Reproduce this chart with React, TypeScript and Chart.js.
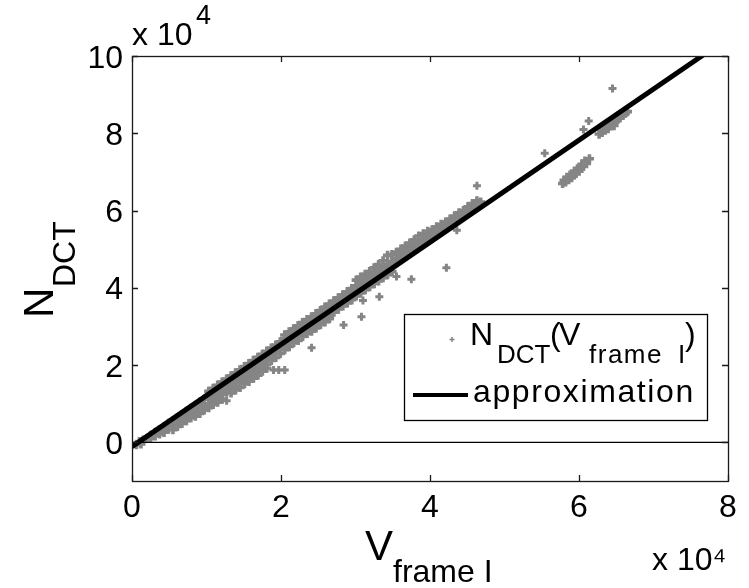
import React, { useEffect, useRef } from 'react';
import { Chart, registerables } from 'chart.js';

Chart.register(...registerables);

const FONT = '"Liberation Sans", Arial, Helvetica, sans-serif';

// Axis setup (values in units of 10^4)
const xTicks = [0, 2, 4, 6, 8];
const yTicks = [0, 2, 4, 6, 8, 10];
const xTickLabels = ['0', '2', '4', '6', '8'];
const yTickLabels = ['0', '2', '4', '6', '8', '10'];
const xRange = [0, 8];
const yRange = [-1, 10];
const axisExponent = '4';
const axisExponentText = 'x 10\u2074';

// Approximation line (units of 10^4)
const approxLineX = [0, 7.7];
const approxLineY = [-0.11, 10.07];

// Horizontal reference line at N_DCT = 0
const zeroLineX = [0, 8];
const zeroLineY = [0, 0];

// Measured points N_DCT(V_frame I), units of 10^4
const nearOrigin: [number, number][] = [
  [0.06, -0.06], [0.1, 0.02], [0.12, -0.04], [0.15, 0.06], [0.2, 0.1],
];

const bandStart: [number, number][] = [
  [0.25, 0.18], [0.25, 0.1], [0.31, 0.26], [0.31, 0.17], [0.37, 0.33], [0.37, 0.22],
  [0.43, 0.4], [0.43, 0.26], [0.49, 0.49], [0.49, 0.34], [0.55, 0.56], [0.55, 0.44],
  [0.55, 0.33], [0.61, 0.64], [0.61, 0.52], [0.61, 0.41], [0.67, 0.72], [0.67, 0.6],
  [0.67, 0.49], [0.73, 0.8], [0.73, 0.68], [0.73, 0.56], [0.79, 0.88], [0.79, 0.75],
  [0.79, 0.64], [0.85, 0.96], [0.85, 0.82], [0.85, 0.68], [0.91, 1.04], [0.91, 0.9],
  [0.91, 0.75], [0.97, 1.12], [0.97, 0.98], [0.97, 0.84],
];

const bandLow: [number, number][] = [
  [1.03, 1.32], [1.03, 1.14], [1.03, 1.0], [1.03, 0.9],
  [1.09, 1.4], [1.09, 1.22], [1.09, 1.08], [1.09, 0.98],
  [1.15, 1.48], [1.15, 1.3], [1.15, 1.15], [1.15, 1.04],
  [1.21, 1.56], [1.21, 1.38], [1.21, 1.24], [1.21, 1.12],
  [1.27, 1.64], [1.27, 1.46], [1.27, 1.3],
  [1.33, 1.72], [1.33, 1.54], [1.33, 1.38], [1.33, 1.28],
  [1.39, 1.8], [1.39, 1.62], [1.39, 1.46], [1.39, 1.36],
  [1.45, 1.88], [1.45, 1.7], [1.45, 1.55], [1.45, 1.42],
  [1.51, 1.96], [1.51, 1.78], [1.51, 1.62], [1.51, 1.52],
  [1.57, 2.04], [1.57, 1.86], [1.57, 1.7], [1.57, 1.58],
  [1.63, 2.12], [1.63, 1.94], [1.63, 1.78], [1.63, 1.66],
  [1.69, 2.2], [1.69, 2.02], [1.69, 1.86], [1.69, 1.74],
  [1.75, 2.28], [1.75, 2.1], [1.75, 1.94], [1.75, 1.84],
  [1.81, 2.36], [1.81, 2.18], [1.81, 2.02], [1.81, 1.92],
  [1.87, 2.44], [1.87, 2.26], [1.87, 2.12],
  [1.93, 2.52], [1.93, 2.34], [1.93, 2.2],
  [1.99, 2.6], [1.99, 2.42], [1.99, 2.3],
];

const bandMid: [number, number][] = [
  [2.05, 2.78], [2.05, 2.68], [2.05, 2.5], [2.05, 2.4],
  [2.11, 2.86], [2.11, 2.76], [2.11, 2.58], [2.11, 2.48],
  [2.17, 2.94], [2.17, 2.84], [2.17, 2.66], [2.17, 2.58],
  [2.23, 3.02], [2.23, 2.92], [2.23, 2.74], [2.23, 2.64],
  [2.29, 3.1], [2.29, 3.0], [2.29, 2.82], [2.29, 2.74],
  [2.35, 3.18], [2.35, 3.08], [2.35, 2.9], [2.35, 2.82],
  [2.41, 3.25], [2.41, 3.15], [2.41, 2.97], [2.41, 2.88],
  [2.47, 3.33], [2.47, 3.23], [2.47, 3.05], [2.47, 2.96],
  [2.53, 3.41], [2.53, 3.31], [2.53, 3.13], [2.53, 3.05],
  [2.59, 3.5], [2.59, 3.39], [2.59, 3.21], [2.59, 3.12],
  [2.65, 3.58], [2.65, 3.47], [2.65, 3.29], [2.65, 3.2],
  [2.71, 3.66], [2.71, 3.55], [2.71, 3.37],
  [2.77, 3.74], [2.77, 3.63], [2.77, 3.45],
  [2.83, 3.82], [2.83, 3.71], [2.83, 3.53],
  [2.89, 3.9], [2.89, 3.79], [2.89, 3.61],
  [2.95, 3.98], [2.95, 3.87], [2.95, 3.69],
];

const bandHigh: [number, number][] = [
  [3.01, 4.2], [3.01, 4.05], [3.01, 3.95], [3.01, 3.79],
  [3.07, 4.28], [3.07, 4.13], [3.07, 4.03], [3.07, 3.87],
  [3.13, 4.35], [3.13, 4.21], [3.13, 4.11], [3.13, 3.95],
  [3.19, 4.42], [3.19, 4.29], [3.19, 4.19], [3.19, 4.03],
  [3.25, 4.52], [3.25, 4.37], [3.25, 4.27], [3.25, 4.11],
  [3.31, 4.6], [3.31, 4.44], [3.31, 4.34], [3.31, 4.18],
  [3.37, 4.7], [3.37, 4.52], [3.37, 4.42], [3.37, 4.26],
  [3.43, 4.84], [3.43, 4.6], [3.43, 4.5], [3.43, 4.34],
  [3.49, 4.86], [3.49, 4.68], [3.49, 4.58], [3.49, 4.42],
  [3.55, 4.92], [3.55, 4.76], [3.55, 4.66],
  [3.61, 5.0], [3.61, 4.84], [3.61, 4.74],
  [3.67, 5.08], [3.67, 4.92], [3.67, 4.82],
  [3.73, 5.16], [3.73, 5.0], [3.73, 4.9],
  [3.79, 5.24], [3.79, 5.08], [3.79, 4.98],
  [3.85, 5.34], [3.85, 5.16], [3.85, 5.06],
  [3.91, 5.4], [3.91, 5.24], [3.91, 5.14],
  [3.97, 5.46], [3.97, 5.32], [3.97, 5.22],
  [4.03, 5.5], [4.03, 5.4], [4.03, 5.3],
  [4.09, 5.58], [4.09, 5.48], [4.09, 5.38],
  [4.15, 5.64], [4.15, 5.55], [4.15, 5.45],
  [4.21, 5.7], [4.21, 5.62], [4.21, 5.53],
  [4.27, 5.78], [4.27, 5.7], [4.27, 5.61],
  [4.33, 5.86], [4.33, 5.78], [4.33, 5.69],
  [4.39, 5.94], [4.39, 5.86], [4.39, 5.77],
  [4.45, 6.0], [4.45, 5.93], [4.45, 5.85],
  [4.51, 6.1], [4.51, 6.01], [4.51, 5.93],
  [4.57, 6.18], [4.57, 6.08],
  [4.63, 6.25], [4.63, 6.1],
  [4.68, 6.22],
];

const clusterLow: [number, number][] = [
  [5.78, 6.7], [5.8, 6.78], [5.82, 6.74], [5.86, 6.8], [5.84, 6.86], [5.88, 6.92],
  [5.9, 6.85], [5.92, 6.92], [5.96, 6.96], [5.94, 7.02], [5.98, 7.08], [6.0, 7.02],
  [6.02, 7.1], [6.06, 7.14], [6.04, 7.2], [6.08, 7.28], [6.1, 7.22], [6.14, 7.34],
];

const clusterHigh: [number, number][] = [
  [6.27, 7.98], [6.31, 8.02], [6.35, 8.08], [6.33, 8.14], [6.37, 8.18], [6.39, 8.12],
  [6.41, 8.2], [6.45, 8.24], [6.47, 8.2], [6.43, 8.3], [6.49, 8.3], [6.51, 8.36],
  [6.55, 8.4], [6.53, 8.46], [6.59, 8.46], [6.62, 8.52], [6.65, 8.56],
];

const outliers: [number, number][] = [
  [1.27, 1.08], [1.9, 1.87], [1.97, 1.87], [2.05, 1.87], [2.41, 2.45], [2.84, 3.04],
  [3.08, 3.25], [3.1, 3.67], [3.32, 3.77], [3.55, 4.29], [3.75, 4.22], [4.22, 4.52],
  [4.36, 5.49], [4.63, 6.64], [5.54, 7.48], [6.06, 8.1], [6.13, 8.32], [6.45, 9.16],
];

const SCATTER_COLOR = '#858585';

function txt(ctx: CanvasRenderingContext2D, s: string, x: number, y: number, size: number) {
  ctx.font = `${size}px ${FONT}`;
  ctx.fillText(s, x, y);
}

// draws a string glyph by glyph with extra spacing between glyphs
function spaced(ctx: CanvasRenderingContext2D, s: string, x: number, y: number, size: number, gap: number) {
  ctx.font = `${size}px ${FONT}`;
  let cx = x;
  for (const ch of s) {
    ctx.fillText(ch, cx, y);
    cx += ctx.measureText(ch).width + gap;
  }
}

const overlay = {
  id: 'matlabOverlay',
  afterDraw(chart: any) {
    const ctx: CanvasRenderingContext2D = chart.ctx;
    const { left, right, top, bottom } = chart.chartArea;
    const xs = chart.scales.x;
    const ys = chart.scales.y;
    ctx.save();
    // axes box
    ctx.strokeStyle = '#1a1a1a';
    ctx.lineWidth = 1.3;
    ctx.strokeRect(Math.round(left) + 0.5, Math.round(top) + 0.5, Math.round(right - left), Math.round(bottom - top));
    // inward ticks
    ctx.beginPath();
    const tl = 6;
    xTicks.forEach((v) => {
      const p = Math.round(xs.getPixelForValue(v)) + 0.5;
      ctx.moveTo(p, bottom);
      ctx.lineTo(p, bottom - tl);
      ctx.moveTo(p, top);
      ctx.lineTo(p, top + tl);
    });
    yTicks.forEach((v) => {
      const p = Math.round(ys.getPixelForValue(v)) + 0.5;
      ctx.moveTo(left, p);
      ctx.lineTo(left + tl, p);
      ctx.moveTo(right, p);
      ctx.lineTo(right - tl, p);
    });
    ctx.stroke();

    ctx.fillStyle = '#000';
    ctx.textBaseline = 'alphabetic';

    // tick labels
    ctx.textAlign = 'center';
    ctx.font = `32px ${FONT}`;
    for (let i = 0; i < xTicks.length; i++) {
      ctx.fillText(xTickLabels[i], xs.getPixelForValue(xTicks[i]), bottom + 36);
    }
    ctx.textAlign = 'right';
    for (let i = 0; i < yTicks.length; i++) {
      ctx.fillText(yTickLabels[i], left - 9, ys.getPixelForValue(yTicks[i]) + 11.5);
    }
    ctx.textAlign = 'left';

    // exponent labels
    txt(ctx, 'x', 132, 45, 32);
    txt(ctx, '10', 157, 45, 32);
    txt(ctx, axisExponent, 196, 24, 27);
    txt(ctx, axisExponentText, 652, 570, 32);

    // x axis title
    txt(ctx, 'V', 365, 560, 42);
    txt(ctx, 'frame I', 393, 582, 32);

    // y axis title (rotated)
    ctx.save();
    ctx.translate(53, 318);
    ctx.rotate(-Math.PI / 2);
    txt(ctx, 'N', 0, 0, 42);
    txt(ctx, 'DCT', 31, 22, 32);
    ctx.restore();

    // legend
    ctx.fillStyle = '#fff';
    ctx.fillRect(404, 314, 303, 107);
    ctx.strokeStyle = '#000';
    ctx.lineWidth = 1.3;
    ctx.strokeRect(404.5, 314.5, 303, 106);
    ctx.strokeStyle = SCATTER_COLOR;
    ctx.lineWidth = 1.5;
    ctx.beginPath();
    ctx.moveTo(449.5, 339.5);
    ctx.lineTo(454.5, 339.5);
    ctx.moveTo(452, 337);
    ctx.lineTo(452, 342);
    ctx.stroke();
    ctx.fillStyle = '#000';
    txt(ctx, 'N', 470, 345, 32);
    txt(ctx, 'DCT', 497, 363, 26);
    txt(ctx, '(', 550, 345, 32);
    txt(ctx, 'V', 559, 345, 32);
    spaced(ctx, 'frame', 589, 363, 26, 1.5);
    txt(ctx, 'I', 678, 363, 26);
    txt(ctx, ')', 685, 345, 32);
    ctx.strokeStyle = '#000';
    ctx.lineWidth = 4;
    ctx.beginPath();
    ctx.moveTo(413, 395);
    ctx.lineTo(468, 395);
    ctx.stroke();
    spaced(ctx, 'approximation', 473, 402, 32, 1.6);
    ctx.restore();
  },
};

export default function App() {
  const ref = useRef<HTMLCanvasElement>(null);
  useEffect(() => {
    const canvas = ref.current;
    if (!canvas) return;
    const toPts = (arr: [number, number][]) => arr.map(([x, y]) => ({ x, y }));
    const band = toPts([...nearOrigin, ...bandStart, ...bandLow, ...bandMid, ...bandHigh, ...clusterLow, ...clusterHigh]);
    const isolated = toPts(outliers);
    const approx = approxLineX.map((x, i) => ({ x, y: approxLineY[i] }));
    const zero = zeroLineX.map((x, i) => ({ x, y: zeroLineY[i] }));
    const chart = new Chart(canvas, {
      type: 'scatter',
      data: {
        datasets: [
          {
            label: 'approximation',
            data: approx,
            showLine: true,
            borderColor: '#000',
            backgroundColor: '#000',
            borderWidth: 5,
            pointRadius: 0,
            order: 0,
          } as any,
          {
            label: 'zero',
            data: zero,
            showLine: true,
            borderColor: '#000',
            borderWidth: 1.2,
            pointRadius: 0,
            order: 1,
          } as any,
          {
            label: 'N_DCT(V_frame I)',
            data: band,
            pointStyle: 'cross',
            pointRadius: 4.6,
            borderWidth: 3.6,
            borderColor: SCATTER_COLOR,
            backgroundColor: SCATTER_COLOR,
            order: 2,
          } as any,
          {
            label: 'N_DCT(V_frame I) isolated',
            data: isolated,
            pointStyle: 'cross',
            pointRadius: 4,
            borderWidth: 3,
            borderColor: SCATTER_COLOR,
            backgroundColor: SCATTER_COLOR,
            order: 3,
          } as any,
        ],
      },
      options: {
        responsive: false,
        animation: false,
        devicePixelRatio: 1,
        layout: { padding: { top: 56, right: 21, left: 0, bottom: 0 } },
        plugins: { legend: { display: false }, tooltip: { enabled: false } },
        scales: {
          x: {
            type: 'linear',
            min: xRange[0],
            max: xRange[1],
            afterFit: (s: any) => {
              s.height = 107;
            },
            grid: { display: false, drawTicks: false },
            border: { display: false },
            ticks: { display: false },
          },
          y: {
            type: 'linear',
            min: yRange[0],
            max: yRange[1],
            afterFit: (s: any) => {
              s.width = 132;
            },
            grid: { display: false, drawTicks: false },
            border: { display: false },
            ticks: { display: false },
          },
        },
      } as any,
      plugins: [overlay],
    });
    return () => chart.destroy();
  }, []);
  return (
    <div style={{ position: 'fixed', left: 0, top: 0, width: 749, height: 588, background: '#fff' }}>
      <canvas ref={ref} width={749} height={588} style={{ display: 'block', width: 749, height: 588 }} />
    </div>
  );
}
